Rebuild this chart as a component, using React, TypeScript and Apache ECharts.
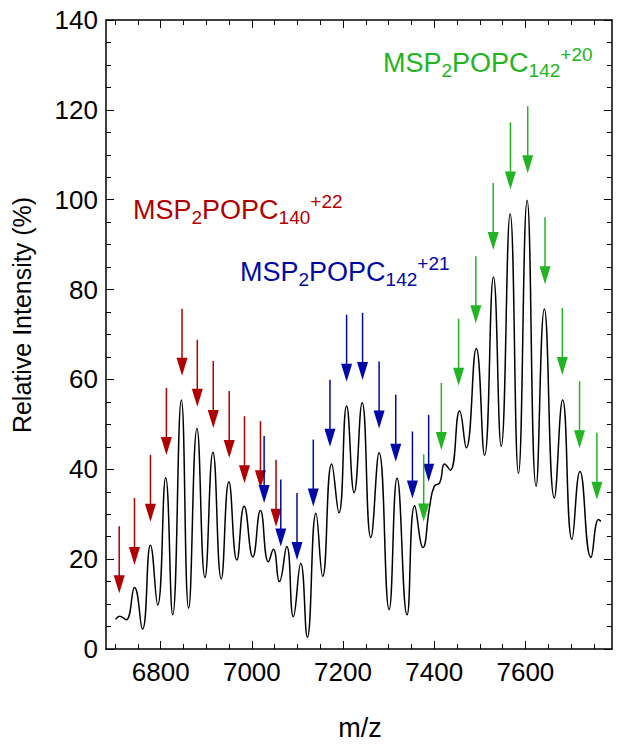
import React, { useEffect, useRef } from "react";
import * as echarts from "echarts";

// Spectrum (m/z, relative intensity %)
const specMz = [
  6701, 6710, 6724, 6742.5, 6760, 6777.5, 6793.4, 6810.9, 6826.3, 6845.3,
  6861.3, 6879.6, 6897.1, 6914.6, 6932.8, 6949.6, 6967.1, 6983.1, 7002.1, 7018.8,
  7036.3, 7047.2, 7060.3, 7076.5, 7091, 7107.2, 7121.6, 7140.6, 7155.3, 7175,
  7191, 7207.8, 7224.4, 7241.9, 7261, 7279.1, 7301, 7318.5, 7340.4, 7357.2,
  7375.4, 7390, 7400, 7412, 7422.8, 7435.3, 7455.7, 7470.3, 7492.2, 7510.4,
  7530, 7546.9, 7566.6, 7584.8, 7603.8, 7623.5, 7641.6, 7663.5, 7681.7, 7702.2,
  7719.7, 7743.8, 7760.4, 7765.7,
];
const specIntensity = [
  6.6, 7.3, 6.5, 13.7, 4.4, 23.1, 9.8, 38.1, 7.6, 55.4,
  9.1, 49.1, 15.9, 43.8, 15.6, 37.2, 19.8, 31.8, 20.5, 30.8,
  19.4, 22.2, 15.0, 22.8, 7.2, 19.1, 2.6, 30.2, 16.2, 41.2,
  30.3, 54.1, 34.8, 54.8, 24.8, 43.7, 8.8, 38.0, 7.6, 31.9,
  22.6, 31.7, 36.2, 37.0, 41.2, 39.8, 53.0, 44.8, 66.9, 43.1,
  82.8, 45.1, 96.9, 39.1, 99.9, 36.2, 75.7, 33.6, 55.4, 24.4,
  39.5, 20.4, 28.8, 28.4,
];

// Arrow positions (m/z) and arrow tip heights (%)
const redArrowMz = [6709, 6742.5, 6777.5, 6812.5, 6846.8, 6880.3, 6915.3, 6950.3, 6983.8, 7018.8, 7053];
const redArrowTip = [12.4, 18.7, 28.3, 43.2, 60.8, 53.9, 49.2, 42.5, 36.9, 35.8, 27.2];
const blueArrowMz = [7026.9, 7063.4, 7099, 7134.7, 7171.3, 7207.8, 7242.8, 7279.1, 7315.6, 7352.2, 7387.8];
const blueArrowTip = [32.5, 22.8, 19.8, 31.7, 45.0, 59.5, 59.9, 49.1, 41.7, 33.5, 37.2];
const greenArrowMz = [7376.9, 7415.6, 7453.5, 7491.3, 7529.4, 7567.2, 7605.1, 7643.1, 7681, 7718.8, 7756.9];
const greenArrowTip = [28.4, 44.3, 58.6, 72.5, 88.8, 102.3, 105.9, 81.2, 61.0, 44.7, 33.2];

const xMajorTicks = [6800, 7000, 7200, 7400, 7600];
const xMinorTicks = [6700, 6750, 6850, 6900, 6950, 7050, 7100, 7150, 7250, 7300, 7350, 7450, 7500, 7550, 7650, 7700, 7750];

const RED = "#b00000";
const BLUE = "#0008a8";
const GREEN = "#22b422";
const FONT = "'Liberation Sans', Arial, Helvetica, sans-serif";

function arrowSeries(name: string, mz: number[], tips: number[], color: string) {
  return {
    name,
    type: "custom",
    xAxisIndex: 0,
    yAxisIndex: 0,
    z: 5,
    silent: true,
    clip: false,
    data: mz.map((m, i) => [m, tips[i]]),
    renderItem: (_params: any, api: any) => {
      const p = api.coord([api.value(0), api.value(1)]);
      const len = 67;
      const hw = 5.5;
      const hh = 18;
      return {
        type: "group",
        children: [
          {
            type: "line",
            shape: { x1: p[0], y1: p[1] - len, x2: p[0], y2: p[1] - hh + 2 },
            style: { stroke: color, lineWidth: 1.5 },
          },
          {
            type: "polygon",
            shape: {
              points: [
                [p[0] - hw, p[1] - hh],
                [p[0] + hw, p[1] - hh],
                [p[0], p[1]],
              ],
            },
            style: { fill: color },
          },
        ],
      };
    },
  };
}

function label(x: number, y: number, sub: string, sup: string, color: string) {
  return {
    type: "text",
    left: x,
    top: y,
    z: 10,
    style: {
      text: `{m|MSP}{s|2}{m|POPC}{s|${sub}}{p|${sup}}`,
      fill: color,
      font: `27px ${FONT}`,
      rich: {
        m: { fontSize: 27, lineHeight: 27, fontFamily: FONT, fill: color, verticalAlign: "bottom", padding: [0, 0, 5, 0] },
        s: { fontSize: 19, lineHeight: 19, fontFamily: FONT, fill: color, verticalAlign: "bottom", padding: [0, 0, 1, 0] },
        p: { fontSize: 19, lineHeight: 19, fontFamily: FONT, fill: color, verticalAlign: "bottom", padding: [0, 0, 17, 0] },
      },
    },
  };
}

export default function App() {
  const ref = useRef<HTMLDivElement>(null);
  useEffect(() => {
    if (!ref.current) return;
    const chart = echarts.init(ref.current, undefined, { renderer: "svg" });
    const XMIN = 6680;
    const XMAX = 7790;
    const axisLine = { show: true, lineStyle: { color: "#000", width: 1.5 } };
    const tickStyle = { color: "#000", width: 1 };
    const option: any = {
      animation: false,
      backgroundColor: "#fff",
      grid: { left: 106, right: 12, top: 20, bottom: 95, containLabel: false },
      xAxis: [
        {
          type: "value", min: XMIN, max: XMAX, position: "bottom",
          axisLine,
          axisTick: { show: true, inside: true, length: 8, lineStyle: tickStyle, customValues: xMajorTicks },
          axisLabel: {
            show: true, customValues: xMajorTicks, fontSize: 26, fontFamily: FONT, color: "#000", margin: 10,
            formatter: (v: number) => String(v),
          },
          splitLine: { show: false },
        },
        {
          type: "value", min: XMIN, max: XMAX, position: "bottom",
          axisLine: { show: false },
          axisTick: { show: true, inside: true, length: 5, lineStyle: tickStyle, customValues: xMinorTicks },
          axisLabel: { show: false },
          splitLine: { show: false },
        },
        {
          type: "value", min: XMIN, max: XMAX, position: "top",
          axisLine,
          axisTick: { show: true, inside: true, length: 8, lineStyle: tickStyle, customValues: xMajorTicks },
          axisLabel: { show: false },
          splitLine: { show: false },
        },
        {
          type: "value", min: XMIN, max: XMAX, position: "top",
          axisLine: { show: false },
          axisTick: { show: true, inside: true, length: 5, lineStyle: tickStyle, customValues: xMinorTicks },
          axisLabel: { show: false },
          splitLine: { show: false },
        },
      ],
      yAxis: [
        {
          type: "value", min: 0, max: 140, interval: 20, position: "left",
          axisLine,
          axisTick: { show: true, inside: true, length: 8, lineStyle: tickStyle },
          minorTick: { show: true, splitNumber: 4, length: 5, lineStyle: tickStyle },
          axisLabel: { show: true, fontSize: 26, fontFamily: FONT, color: "#000", margin: 8 },
          splitLine: { show: false },
          minorSplitLine: { show: false },
        },
        {
          type: "value", min: 0, max: 140, interval: 20, position: "right",
          axisLine,
          axisTick: { show: true, inside: true, length: 8, lineStyle: tickStyle },
          minorTick: { show: true, splitNumber: 4, length: 5, lineStyle: tickStyle },
          axisLabel: { show: false },
          splitLine: { show: false },
          minorSplitLine: { show: false },
        },
      ],
      graphic: [
        {
          type: "text",
          x: 22, y: 315, rotation: Math.PI / 2,
          style: { text: "Relative Intensity (%)", font: `25px ${FONT}`, fill: "#000", textAlign: "center", textVerticalAlign: "middle" },
        },
        {
          type: "text",
          x: 360, y: 728,
          style: { text: "m/z", font: `27px ${FONT}`, fill: "#000", textAlign: "center", textVerticalAlign: "middle" },
        },
        label(133, 192, "140", "+22", RED),
        label(240, 254, "142", "+21", BLUE),
        label(383, 45, "142", "+20", GREEN),
      ],
      series: [
        {
          name: "spectrum",
          type: "line",
          xAxisIndex: 0,
          yAxisIndex: 0,
          data: specMz.map((m, i) => [m, specIntensity[i]]),
          smooth: 0.5,
          symbol: "none",
          lineStyle: { color: "#000", width: 1.5 },
          z: 3,
        },
        arrowSeries("red", redArrowMz, redArrowTip, RED),
        arrowSeries("blue", blueArrowMz, blueArrowTip, BLUE),
        arrowSeries("green", greenArrowMz, greenArrowTip, GREEN),
      ],
    };
    chart.setOption(option);
    return () => chart.dispose();
  }, []);
  return (
    <div
      ref={ref}
      style={{ position: "absolute", left: 0, top: 0, width: 624, height: 744, background: "#fff" }}
    />
  );
}
